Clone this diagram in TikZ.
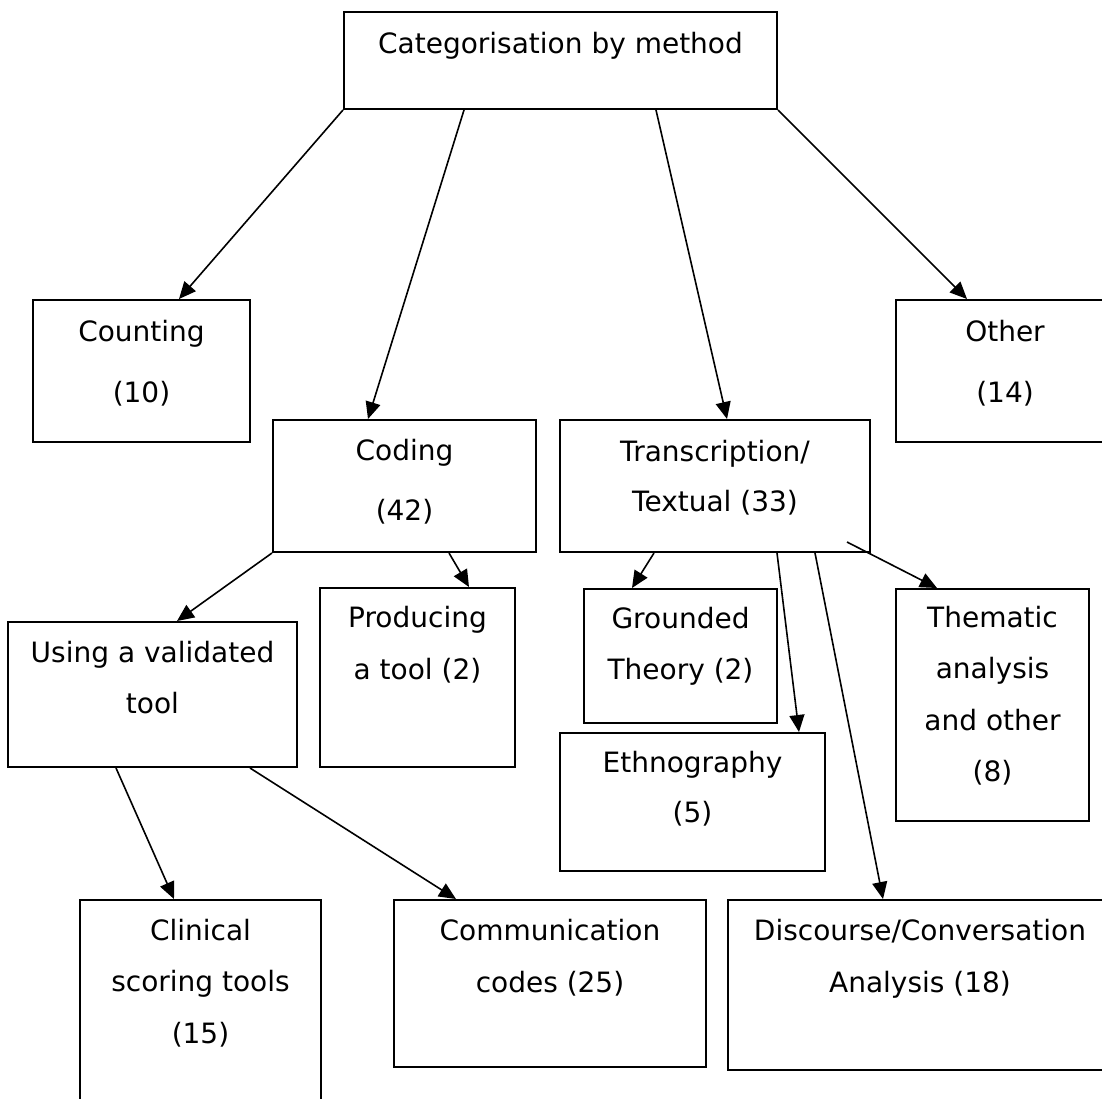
\documentclass[tikz,border=0pt]{standalone}
\usepackage{fontspec}
\setmainfont{DejaVu Sans}
\usetikzlibrary{arrows.meta,fit}
\newcommand\stk[2]{\vtop{\baselineskip=#1pt\lineskiplimit=-1000pt\lineskip=0pt\halign{\hfil##\hfil\cr #2\crcr}}}
\newcommand\bx[5]{\node[boxstyle, fit={(#2,#3) (#4,#5)}] (#1) {};}
\tikzset{
  boxstyle/.style={draw=black, line width=2pt, inner sep=0pt, fill=white},
  txt/.style={anchor=base, inner sep=0pt, font=\fontsize{28}{34}\selectfont},
  conn/.style={line width=1.6pt, -{Triangle[length=17pt,width=15pt]}}
}
\begin{document}
\begin{tikzpicture}[x=1pt,y=-1pt]
\useasboundingbox (0,0) rectangle (1102,1098);
\clip (0,0) rectangle (1102,1098);
\fill[white] (0,0) rectangle (1102,1098);
% boxes
\bx{top}{344}{12}{777}{109}
\bx{count}{33}{300}{250}{442}
\bx{other}{896}{300}{1114}{442}
\bx{coding}{273}{420}{536}{552}
\bx{trans}{560}{420}{870}{552}
\bx{using}{8}{622}{297}{767}
\bx{producing}{320}{588}{515}{767}
\bx{grounded}{584}{589}{777}{723}
\bx{ethno}{560}{733}{825}{871}
\bx{thematic}{896}{589}{1089}{821}
\bx{clinical}{80}{900}{321}{1120}
\bx{comm}{394}{900}{706}{1067}
\bx{disc}{728}{900}{1112}{1070}
% texts
\node[txt] (top-t) at (560.5,53) {Categorisation by method};
\node[txt] (count-t) at (141.5,341) {\stk{61}{Counting\cr (10)}};
\node[txt] (other-t) at (1005,341) {\stk{61}{Other\cr (14)}};
\node[txt] (coding-t) at (404.5,460) {\stk{60}{Coding\cr (42)}};
\node[txt] (trans-t) at (715,461) {\stk{50.5}{Transcription/\cr Textual (33)}};
\node[txt] (using-t) at (152.5,662) {\stk{51.5}{Using a validated\cr tool}};
\node[txt] (producing-t) at (417.5,627) {\stk{52}{Producing\cr a tool (2)}};
\node[txt] (grounded-t) at (680.5,628) {\stk{51}{Grounded\cr Theory (2)}};
\node[txt] (ethno-t) at (692.5,772) {\stk{50}{Ethnography\cr (5)}};
\node[txt] (thematic-t) at (992.5,627) {\stk{51.5}{Thematic\cr analysis\cr and other\cr (8)}};
\node[txt] (clinical-t) at (200.5,940) {\stk{51.5}{Clinical\cr scoring tools\cr (15)}};
\node[txt] (comm-t) at (550,940) {\stk{52}{Communication\cr codes (25)}};
\node[txt] (disc-t) at (920,940) {\stk{52}{Discourse/Conversation\cr Analysis (18)}};
% connectors
\draw[conn] (top.south west) -- ([xshift=147pt]count.north west);
\draw[conn] ([xshift=121pt]top.south west) -- ([xshift=96pt]coding.north west);
\draw[conn] ([xshift=313pt]top.south west) -- ([xshift=168pt]trans.north west);
\draw[conn] (top.south east) -- ([xshift=72pt]other.north west);
\draw[conn] (coding.south west) -- ([xshift=170pt]using.north west);
\draw[conn] ([xshift=177pt]coding.south west) -- ([xshift=150pt]producing.north west);
\draw[conn] ([xshift=95pt]trans.south west) -- ([xshift=49pt]grounded.north west);
\draw[conn] ([xshift=218pt]trans.south west) -- ([xshift=240pt]ethno.north west);
\draw[conn] ([xshift=256pt]trans.south west) -- ([xshift=156pt]disc.north west);
\draw[conn] ([xshift=288pt,yshift=11pt]trans.south west) -- ([xshift=42pt]thematic.north west);
\draw[conn] ([xshift=109pt]using.south west) -- ([xshift=95pt]clinical.north west);
\draw[conn] ([xshift=243pt]using.south west) -- ([xshift=63pt]comm.north west);
\end{tikzpicture}
\end{document}
